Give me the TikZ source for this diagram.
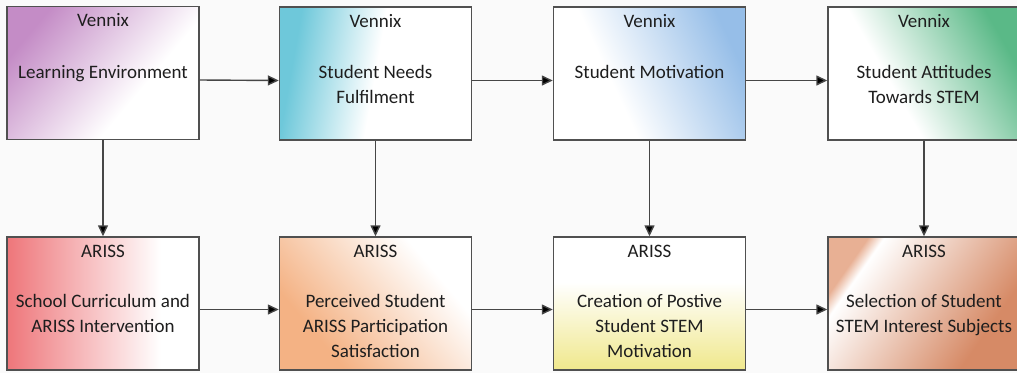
\documentclass[tikz,border=0pt]{standalone}
\usepackage{fontspec}
\setmainfont{Carlito}
\usetikzlibrary{arrows.meta}

\definecolor{bgcol}{RGB}{250,250,250}
\definecolor{edgecol}{RGB}{80,80,80}
\definecolor{linkcol}{RGB}{70,70,70}
\definecolor{inkcol}{RGB}{30,30,30}
\definecolor{cpurple}{RGB}{196,140,198}
\definecolor{ccyan}{RGB}{110,200,218}
\definecolor{cblue}{RGB}{150,190,232}
\definecolor{cgreen}{RGB}{90,185,135}
\definecolor{cred}{RGB}{238,118,122}
\definecolor{corange}{RGB}{244,178,132}
\definecolor{cyellow}{RGB}{240,232,140}
\definecolor{cbrown}{RGB}{214,138,102}
\definecolor{cbrownlt}{RGB}{232,176,148}

% colour fades for the box fills (inner 25bp..75bp spans the box)
\pgfdeclarehorizontalshading{purplefade}{100bp}{color(0bp)=(cpurple); color(25bp)=(cpurple); color(62bp)=(white); color(100bp)=(white)}
\pgfdeclarehorizontalshading{cyanfade}{100bp}{color(0bp)=(ccyan); color(27bp)=(ccyan); color(50bp)=(white); color(100bp)=(white)}
\pgfdeclarehorizontalshading{bluefade}{100bp}{color(0bp)=(white); color(39bp)=(white); color(75bp)=(cblue); color(100bp)=(cblue)}
\pgfdeclarehorizontalshading{greenfade}{100bp}{color(0bp)=(white); color(40bp)=(white); color(75bp)=(cgreen); color(100bp)=(cgreen)}
\pgfdeclarehorizontalshading{redfade}{100bp}{color(0bp)=(cred); color(25bp)=(cred); color(65bp)=(white); color(100bp)=(white)}
\pgfdeclarehorizontalshading{orangefade}{100bp}{color(0bp)=(corange); color(30bp)=(corange); color(70bp)=(white); color(100bp)=(white)}
\pgfdeclareverticalshading{yellowfade}{100bp}{color(0bp)=(cyellow); color(25bp)=(cyellow); color(58bp)=(white); color(100bp)=(white)}
\pgfdeclarehorizontalshading{brownfade}{100bp}{color(0bp)=(cbrownlt); color(25bp)=(cbrownlt); color(29bp)=(white); color(70bp)=(cbrown); color(100bp)=(cbrown)}

\tikzset{
  stagebox/.style={draw=edgecol, line width=1.4pt, rectangle, inner sep=0pt,
    minimum width=192pt, minimum height=133pt, shade},
  tagtext/.style={font=\fontsize{19}{24.8}\selectfont, text=inkcol, anchor=base, inner sep=0pt},
  bodytext/.style={font=\fontsize{19}{24.8}\selectfont, text=inkcol, anchor=north,
    align=center, inner sep=0pt},
  link/.style={draw=linkcol, line width=1.4pt, -{Triangle[length=11pt,width=10pt,fill=black]}},
}

\begin{document}
\begin{tikzpicture}[x=1pt,y=-1pt]
\useasboundingbox (0,0) rectangle (1017,373);
\fill[bgcol] (0,0) rectangle (1017,373);

% upper row: Vennix
\node[stagebox, shading=purplefade, shading angle=-40] (v1) at (103,73) {};
\node[stagebox, shading=cyanfade, shading angle=-10] (v2) at (375.5,73.5) {};
\node[stagebox, shading=bluefade, shading angle=25] (v3) at (649.5,73.5) {};
\node[stagebox, shading=greenfade, shading angle=30] (v4) at (924,73.5) {};

% lower row: ARISS
\node[stagebox, shading=redfade] (a1) at (103,303.5) {};
\node[stagebox, shading=orangefade, shading angle=40] (a2) at (375.5,303.5) {};
\node[stagebox, shading=yellowfade] (a3) at (649.5,303.5) {};
\node[stagebox, shading=brownfade, shading angle=-35] (a4) at (924,303.5) {};

% labels
\foreach \b in {v1,v2,v3,v4}
  \node[tagtext] (\b t) at ([yshift=-21pt]\b.north) {Vennix};
\foreach \b in {a1,a2,a3,a4}
  \node[tagtext] (\b t) at ([yshift=-21pt]\b.north) {ARISS};

\node[bodytext] (v1b) at ([yshift=-55pt]v1.north) {\strut Learning Environment};
\node[bodytext] (v2b) at ([yshift=-55pt]v2.north) {\strut Student Needs\\Fulfilment};
\node[bodytext] (v3b) at ([yshift=-55pt]v3.north) {\strut Student Motivation};
\node[bodytext] (v4b) at ([yshift=-55pt]v4.north) {\strut Student Attitudes\\Towards STEM};

\node[bodytext] (a1b) at ([yshift=-54pt]a1.north) {\strut School Curriculum and\\ARISS Intervention};
\node[bodytext] (a2b) at ([yshift=-54pt]a2.north) {\strut Perceived Student\\ARISS Participation\\Satisfaction};
\node[bodytext] (a3b) at ([yshift=-54pt]a3.north) {\strut Creation of Postive\\Student STEM\\Motivation};
\node[bodytext] (a4b) at ([yshift=-54pt]a4.north) {\strut Selection of Student\\STEM Interest Subjects};

% connectors
\draw[link] ([yshift=-7pt]v1.east) -- ([yshift=-7pt]v2.west);
\draw[link] ([yshift=-7pt]v2.east) -- ([yshift=-7pt]v3.west);
\draw[link] ([yshift=-7pt]v3.east) -- ([yshift=-7pt]v4.west);
\draw[link] ([yshift=-6pt]a1.east) -- ([yshift=-6pt]a2.west);
\draw[link] ([yshift=-6pt]a2.east) -- ([yshift=-6pt]a3.west);
\draw[link] ([yshift=-6pt]a3.east) -- ([yshift=-6pt]a4.west);
\draw[link] (v1.south) -- (a1.north);
\draw[link] (v2.south) -- (a2.north);
\draw[link] (v3.south) -- (a3.north);
\draw[link] (v4.south) -- (a4.north);
\end{tikzpicture}
\end{document}
